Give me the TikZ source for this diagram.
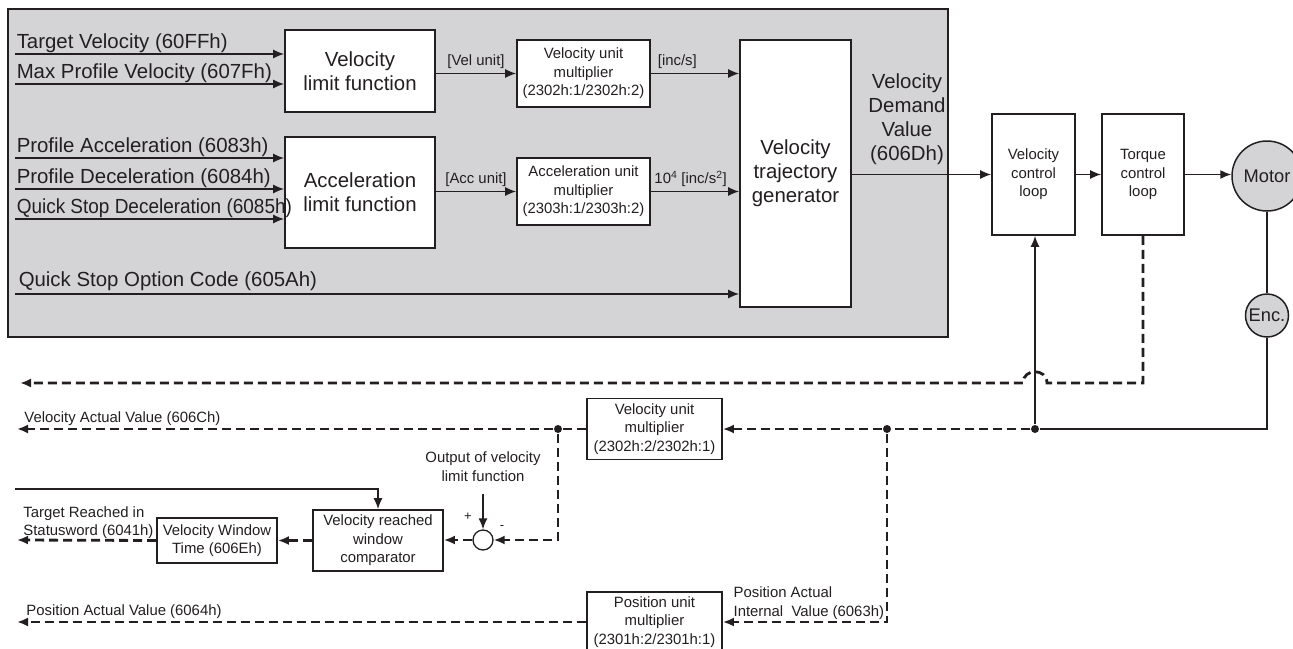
\documentclass[tikz,border=0pt]{standalone}
\usepackage{fontspec}
\setmainfont{Liberation Sans}
\usetikzlibrary{arrows.meta, positioning, calc}
\definecolor{panel gray}{RGB}{212,212,214}
\definecolor{ink}{RGB}{35,31,32}

\tikzset{
  big/.style={font=\fontsize{20.4}{24}\selectfont},
  small/.style={font=\fontsize{14.9}{18.5}\selectfont},
  blk/.style={draw=ink, fill=white, line width=1.7pt, align=center, inner sep=0pt},
  wheel/.style={circle, draw=ink, fill=panel gray, line width=1.5pt, inner sep=0pt, font=\fontsize{18.3}{20}\selectfont},
  arr/.style={-{Latex[length=11pt,width=9pt]}},
  dsh/.style={line width=2.8pt, dash pattern=on 9pt off 5pt},
  dot/.style={circle, fill=ink, inner sep=0pt, minimum size=8pt},
  lbl/.style={small, inner sep=2pt}
}

\begin{document}
\begin{tikzpicture}[x=1pt, y=-1pt, ink, line width=1.5pt]
\clip (0,0) rectangle (1293,648);
\draw[fill=panel gray, line width=1.7pt] (8,9) rectangle (948,337);

\node[blk, big, minimum width=150pt, minimum height=82pt] (vlim) at (360,71) {Velocity\\limit function};
\node[blk, big, minimum width=150pt, minimum height=111pt] (alim) at (360,192.5) {Acceleration\\limit function};
\node[blk, small, minimum width=133pt, minimum height=67pt] (vum) at (583.5,73.5) {Velocity unit\\multiplier\\(2302h:1/2302h:2)};
\node[blk, small, minimum width=133pt, minimum height=67pt] (aum) at (583.5,191.5) {Acceleration unit\\multiplier\\(2303h:1/2303h:2)};
\node[blk, big, minimum width=111pt, minimum height=267pt] (vtg) at (795.5,173.5) {Velocity\\trajectory\\generator};
\node[big, align=center, inner sep=0pt] (vdv) at (907,119) {Velocity\\Demand\\Value\\(606Dh)};
\node[blk, small, minimum width=83pt, minimum height=121pt] (vcl) at (1033.5,174.5) {Velocity\\control\\loop};
\node[blk, small, minimum width=82pt, minimum height=121pt] (tcl) at (1143,174.5) {Torque\\control\\loop};
\node[wheel, minimum size=70pt] (motor) at (1267,176) {Motor};
\node[wheel, minimum size=43pt] (enc) at (1267,315.5) {Enc.};

\foreach \y/\txt in {54/{Target Velocity (60FFh)}, 84/{Max Profile Velocity (607Fh)}}{
  \coordinate (in\y) at (15,\y);
  \draw[arr] (in\y) node[big, anchor=south west, inner sep=1pt] {\txt} -- (in\y -| vlim.west);
};
\foreach \y/\txt in {158/{Profile Acceleration (6083h)}, 189/{Profile Deceleration (6084h)}, 219/{\scalebox{0.93}[1]{Quick Stop Deceleration (6085h)}}}{
  \coordinate (in\y) at (15,\y);
  \draw[arr] (in\y) node[big, anchor=south west, inner sep=1pt] {\txt} -- (in\y -| alim.west);
};
\coordinate (qso) at (15,294);
\draw[arr] (qso) node[big, anchor=south west, inner sep=3pt] {Quick Stop Option Code (605Ah)} -- (qso -| vtg.west);

\draw[arr] (vum.west -| vlim.east) -- node[lbl, above=2pt] {[Vel unit]} (vum.west);
\draw[arr] (vum.east) -- node[lbl, above=2pt, pos=0.3] {[inc/s]} (vum.east -| vtg.west);
\draw[arr] (aum.west -| alim.east) -- node[lbl, above=2pt] {[Acc unit]} (aum.west);
\draw[arr] (aum.east) -- node[lbl, above=2pt, pos=0.45] {10\textsuperscript{4} [inc/s\textsuperscript{2}]} (aum.east -| vtg.west);
\draw[arr] (vtg.east |- vcl.west) -- (vcl.west);
\draw[arr] (vcl.east) -- (tcl.west);
\draw[arr] (tcl.east) -- (motor.west |- tcl.east);
\draw (motor.south) -- (enc.north);

\node[blk, small, minimum width=135pt, minimum height=61pt] (vum2) at (654.5,429) {Velocity unit\\multiplier\\(2302h:2/2302h:1)};
\node[blk, small, minimum width=135pt, minimum height=60pt] (pum) at (654.5,622) {Position unit\\multiplier\\(2301h:2/2301h:1)};
\node[blk, small, minimum width=130pt, minimum height=61pt] (cmp) at (378,540.5) {Velocity reached\\window\\comparator};
\node[blk, small, minimum width=120pt, minimum height=45pt] (vwt) at (217,540.5) {Velocity Window\\Time (606Eh)};
\node[circle, draw, fill=white, minimum size=20pt, inner sep=0pt, line width=1.3pt] (sum) at (483,540) {};
\node[dot] (d1) at (1035,429) {};
\node[dot] (d2) at (887,429) {};
\node[dot] (d3) at (558,429) {};

\coordinate (tq) at (20,383);
\coordinate (vav) at (17,429);
\coordinate (trs) at (17,540);
\coordinate (pav) at (17,622);
\coordinate (trin) at (15,489);
\coordinate (ovl) at (483,494);

\draw (enc.south) |- (d1);
\draw[arr] (d1) -- (d1 |- vcl.south);
\draw[dsh, arr] (tcl.south) |- ([xshift=12pt]tq -| d1) .. controls +(0,-15) and +(0,-15) .. ([xshift=-12pt]tq -| d1) -- (tq);
\draw[dsh, arr] (d1) -- (d2) -- (vum2.east);
\draw[dsh] (vum2.west) -- (d3);
\draw[dsh, arr] (d3) -- (vav) node[lbl, anchor=south west, xshift=4pt] {Velocity Actual Value (606Ch)};
\draw[dsh, arr] (d3) |- (sum.east);
\draw[dsh, arr] (sum.west) -- (sum.west -| cmp.east);
\draw[dsh, arr] (cmp.west) -- (vwt.east);
\draw[dsh, arr] (vwt.west) -- (trs) node[small, anchor=south west, align=left, inner sep=0pt, xshift=5pt] {Target Reached in\\Statusword (6041h)};
\draw[dsh, arr] (d2) |- (pum.east);
\draw[dsh, arr] (pum.west) -- (pav) node[lbl, anchor=south west, xshift=6pt] {Position Actual Value (6064h)};
\node[small, anchor=south west, align=left, inner sep=0pt, xshift=10pt, yshift=2pt] at (pum.east) {Position Actual\\Internal~ Value (6063h)};
\draw[arr] (trin) -| (cmp.north);
\draw[arr] (ovl) node[small, anchor=south, align=center, inner sep=0pt, yshift=12pt] {Output of velocity\\limit function} -- (sum.north);
\node[font=\fontsize{13}{13}\selectfont] at ([shift={(-15,-23)}]sum.center) {+};
\node[font=\fontsize{13}{13}\selectfont] at ([shift={(19,-12)}]sum.center) {-};
\end{tikzpicture}
\end{document}
